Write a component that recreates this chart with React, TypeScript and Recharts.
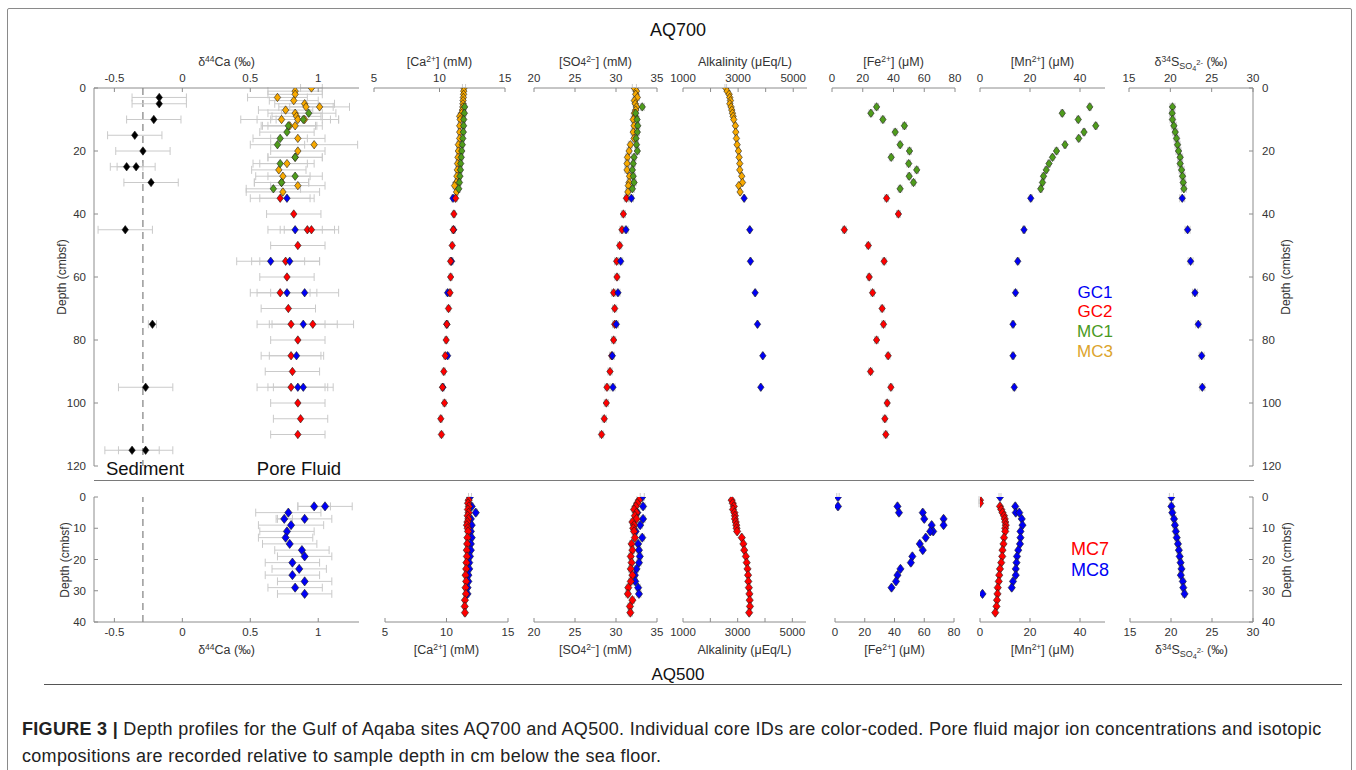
import React from 'react';
import { ScatterChart, Scatter, XAxis, YAxis, ErrorBar, ReferenceLine } from 'recharts';

const FONT = '"Liberation Sans", Arial, Helvetica, sans-serif';
const C_GC1 = '#0000f5';
const C_GC2 = '#ff0000';
const C_MC1 = '#4f9c1c';
const C_MC3 = '#f8a900';
const C_SED = '#000000';

// ================= AQ700 =================
// sediment δ44Ca
const sedDepth = [3, 5, 10, 15, 20, 25, 25, 30, 45, 75, 95, 115, 115];
const sedCa44 = [-0.17, -0.17, -0.21, -0.35, -0.29, -0.41, -0.34, -0.23, -0.42, -0.22, -0.27, -0.37, -0.27];
const sedCa44Err = [0.2, 0.2, 0.2, 0.2, 0.2, 0.12, 0.14, 0.2, 0.2, 0.03, 0.2, 0.2, 0.2];

// pore fluid δ44Ca
const mc3Ca44Depth = [0, 1, 2, 3, 4, 5, 6, 6, 7, 8, 9, 10, 10, 10, 12, 12, 16, 18, 20, 22, 24, 26, 28, 30, 31, 33];
const mc3Ca44 = [0.95, 0.83, 0.83, 0.7, 0.82, 0.9, 0.91, 1.01, 0.76, 0.83, 0.84, 0.85, 0.9, 0.73, 0.79, 0.83, 0.85, 0.97, 0.85, 0.83, 0.77, 0.71, 0.74, 0.73, 0.85, 0.74];
const mc3Ca44Err = [0.08, 0.2, 0.2, 0.22, 0.18, 0.22, 0.2, 0.22, 0.2, 0.2, 0.18, 0.3, 0.25, 0.3, 0.2, 0.2, 0.2, 0.32, 0.2, 0.2, 0.2, 0.2, 0.2, 0.2, 0.2, 0.27];
const mc1Ca44Depth = [8, 10, 12, 14, 16, 18, 22, 24, 28, 30, 32];
const mc1Ca44 = [0.93, 0.89, 0.78, 0.77, 0.72, 0.7, 0.83, 0.72, 0.83, 0.73, 0.67];
const mc1Ca44Err = [0.2, 0.2, 0.2, 0.2, 0.2, 0.2, 0.2, 0.2, 0.2, 0.2, 0.2];
const gc2Ca44Depth = [35, 40, 45, 45, 50, 55, 60, 65, 70, 75, 75, 80, 85, 90, 95, 100, 105, 110];
const gc2Ca44 = [0.72, 0.82, 0.92, 0.95, 0.85, 0.76, 0.77, 0.72, 0.78, 0.8, 0.96, 0.85, 0.8, 0.81, 0.8, 0.85, 0.87, 0.85];
const gc2Ca44Err = [0.22, 0.2, 0.2, 0.2, 0.2, 0.25, 0.2, 0.22, 0.2, 0.25, 0.3, 0.2, 0.22, 0.2, 0.25, 0.2, 0.2, 0.2];
const gc1Ca44Depth = [35, 45, 55, 55, 65, 65, 75, 85, 95, 95];
const gc1Ca44 = [0.77, 0.83, 0.65, 0.79, 0.77, 0.9, 0.89, 0.84, 0.85, 0.89];
const gc1Ca44Err = [0.2, 0.2, 0.25, 0.22, 0.22, 0.25, 0.25, 0.2, 0.22, 0.22];

// MC3 (0-33 cm)
const mc3Depth = [0, 1, 2, 3, 4, 5, 6, 7, 8, 9, 10, 12, 14, 16, 18, 20, 22, 24, 26, 28, 30, 31, 33];
const mc3Ca = [11.87, 11.85, 11.84, 11.82, 11.8, 11.79, 11.78, 11.75, 11.69, 11.54, 11.58, 11.54, 11.54, 11.54, 11.44, 11.44, 11.41, 11.38, 11.36, 11.33, 11.28, 11.15, 11.3];
const mc3SO4 = [32.24, 32.5, 32.4, 32.6, 32.24, 32.35, 32.5, 32.4, 32.24, 32.35, 32.1, 32.2, 32.1, 32.2, 31.75, 31.6, 31.4, 31.35, 31.35, 31.65, 31.6, 31.5, 31.45];
const mc3Alk = [2552, 2600, 2673, 2697, 2721, 2700, 2745, 2770, 2794, 2818, 2842, 2903, 2915, 2939, 2964, 3012, 3036, 3060, 3060, 3133, 3158, 3024, 3073];

// MC1 (6-32 cm)
const mc1Depth = [6, 8, 10, 12, 14, 16, 18, 20, 22, 24, 26, 28, 30, 32];
const mc1Ca = [11.92, 11.9, 11.85, 11.84, 11.82, 11.78, 11.74, 11.7, 11.66, 11.62, 11.6, 11.56, 11.52, 11.47];
const mc1SO4 = [33.2, 32.4, 32.57, 32.65, 32.6, 32.45, 32.5, 32.6, 32.2, 32.1, 32.0, 32.1, 32.2, 32.0];
const mc1Mn = [43.9, 32.9, 39.3, 46.3, 41.6, 39.5, 34.0, 30.6, 29.0, 27.6, 26.5, 25.4, 25.0, 24.3];
const mc1S34 = [20.26, 20.22, 20.26, 20.43, 20.59, 20.75, 20.87, 20.99, 21.19, 21.19, 21.36, 21.48, 21.56, 21.64];
const mc1FeDepth = [6, 8, 10, 12, 14, 18, 20, 22, 24, 26, 28, 30, 32];
const mc1Fe = [29.0, 25.3, 33.1, 47.1, 41.1, 44.3, 50.4, 38.5, 49.9, 55.1, 50.2, 53.0, 44.3];

// GC2 (35-110 cm)
const gc2Depth = [35, 40, 45, 50, 55, 60, 65, 70, 75, 80, 85, 90, 95, 100, 105, 110];
const gc2Ca = [11.23, 11.1, 11.05, 10.97, 10.85, 10.85, 10.8, 10.69, 10.56, 10.51, 10.44, 10.33, 10.23, 10.38, 10.1, 10.15];
const gc2SO4 = [31.27, 30.9, 30.73, 30.45, 30.08, 30.12, 29.71, 29.84, 29.84, 29.71, 29.47, 29.27, 28.9, 28.82, 28.57, 28.24];
const gc2Fe = [35.5, 43.2, 8.0, 23.6, 33.9, 24.2, 26.4, 32.6, 33.5, 29.0, 36.5, 25.1, 38.3, 35.9, 34.4, 35.0];

// GC1 (35-95 cm)
const gc1Depth = [35, 45, 55, 65, 75, 85, 95];
const gc1Ca = [11.03, 11.08, 10.92, 10.62, 10.56, 10.62, 10.26];
const gc1SO4 = [31.88, 31.22, 30.57, 30.24, 30.04, 29.55, 29.63];
const gc1Alk = [3218, 3424, 3448, 3618, 3703, 3897, 3824];
const gc1Mn = [20.3, 17.6, 15.1, 14.2, 13.2, 13.2, 13.7];
const gc1S34 = [21.44, 22.09, 22.45, 22.98, 23.38, 23.79, 23.87];

// ================= AQ500 =================
const mc8Ca44Depth = [3, 3, 5, 7, 7, 9, 11, 13, 15, 17, 19, 21, 23, 25, 27, 29, 31];
const mc8Ca44 = [0.97, 1.05, 0.78, 0.75, 0.9, 0.8, 0.77, 0.76, 0.79, 0.88, 0.9, 0.81, 0.86, 0.81, 0.9, 0.83, 0.9];
const mc8Ca44Err = [0.12, 0.2, 0.24, 0.06, 0.2, 0.24, 0.2, 0.2, 0.2, 0.2, 0.2, 0.2, 0.2, 0.2, 0.2, 0.2, 0.2];
const mc8Depth = [0, 3, 5, 7, 9, 11, 13, 15, 17, 19, 21, 23, 25, 27, 29, 31];
const mc8Ca = [11.91, 12.05, 12.38, 11.98, 12.05, 11.98, 12.05, 11.98, 11.98, 11.91, 11.85, 11.85, 11.78, 11.78, 11.71, 11.71];
const mc8SO4 = [33.2, 33.3, 32.6, 33.3, 32.95, 32.4, 33.2, 32.7, 32.8, 32.9, 32.8, 32.5, 32.3, 32.35, 32.7, 32.8];
const mc8S34 = [20.05, 20.05, 20.16, 20.37, 20.48, 20.59, 20.7, 20.85, 20.96, 21.06, 21.17, 21.28, 21.2, 21.44, 21.5, 21.65];
const mc8FeDepth = [0, 3, 3, 5, 5, 7, 7, 9, 9, 11, 11, 13, 15, 17, 19, 21, 23, 25, 27, 29];
const mc8Fe = [2, 2, 42, 43, 59, 60, 73, 65, 73, 66, 64, 61, 57, 59, 52, 51, 44, 42, 41, 38];
const mc8MnDepth = [0, 3, 5, 5, 7, 9, 11, 13, 15, 17, 19, 21, 23, 25, 27, 29, 31];
const mc8Mn = [8.0, 14.1, 14.3, 15.7, 16.7, 17.0, 16.2, 16.2, 16.0, 15.3, 14.8, 14.6, 14.3, 14.3, 13.2, 12.7, 1.0];

const mc7Depth = [1, 2, 3, 4, 5, 6, 7, 8, 9, 10, 11, 13, 15, 17, 19, 21, 23, 25, 27, 29, 31, 33, 35, 37];
const mc7Ca = [11.8, 11.75, 11.82, 11.74, 11.8, 11.72, 11.78, 11.7, 11.66, 11.72, 11.75, 11.7, 11.68, 11.65, 11.66, 11.62, 11.6, 11.55, 11.6, 11.55, 11.58, 11.5, 11.48, 11.5];
const mc7SO4 = [32.8, 32.6, 32.4, 32.2, 32.5, 32.3, 32.5, 32.0, 32.2, 32.1, 32.2, 32.3, 31.9, 32.0, 31.8, 31.9, 31.8, 32.0, 31.8, 31.5, 31.45, 32.0, 31.7, 31.75];
const mc7Alk = [2780, 2820, 2860, 2830, 2880, 2900, 2900, 2930, 2950, 2960, 2980, 3150, 3210, 3240, 3300, 3330, 3360, 3380, 3390, 3410, 3430, 3440, 3450, 3420];
const mc7Mn = [0, 0, 8.0, 8.5, 9.0, 9.6, 9.9, 10.1, 10.3, 10.1, 10.1, 9.6, 9.4, 9.0, 8.9, 8.5, 8.0, 7.7, 7.5, 7.1, 7.0, 6.8, 6.6, 6.1];

// axis ticks
const depthTicksTop = [0, 20, 40, 60, 80, 100, 120];
const depthTicksBottom = [0, 10, 20, 30, 40];
const ca44Ticks = [-0.5, 0, 0.5, 1];
const caTicks = [5, 10, 15];
const so4Ticks = [20, 25, 30, 35];
const alkTicks = [1000, 2000, 3000, 4000, 5000];
const feTicks = [0, 20, 40, 60, 80];
const mnTicks = [0, 20, 40];
const s34Ticks = [15, 20, 25, 30];

type Pt = { x: number; y: number; e: number };
const mk = (depth: number[], val: number[], err: number[] | number): Pt[] =>
  depth.map((d, i) => ({ x: val[i], y: d, e: Array.isArray(err) ? err[i] : err }));

const Diamond = (props: any) => {
  const { cx, cy, color, big } = props;
  if (cx == null || cy == null || isNaN(cx) || isNaN(cy)) return null;
  const hw = big ? 3.6 : 3.2;
  const hh = big ? 4.6 : 4.2;
  return (
    <path
      d={`M${cx},${cy - hh}L${cx + hw},${cy}L${cx},${cy + hh}L${cx - hw},${cy}Z`}
      fill={color}
      stroke="#1c1c1c"
      strokeWidth={0.6}
    />
  );
};

type SeriesDef = { color: string; data: Pt[] };

type PanelProps = {
  x0: number; x1: number; y0: number; y1: number;
  xDomain: [number, number]; xTicks: number[]; xFmt?: (v: number) => string;
  yDomain: [number, number]; yTicks: number[];
  side: 'top' | 'bottom';
  yAxis?: 'left' | 'right';
  series: SeriesDef[];
  refX?: number;
  big?: boolean;
  title: React.ReactNode;
  titleY: number;
};

const tickStyle = { fontSize: 11.5, fill: '#333333', fontFamily: FONT };

function Panel(p: PanelProps) {
  const padL = 50, padR = 50, padT = 30, padB = 30;
  const axisH = 24, axisW = 40;
  const W = p.x1 - p.x0 + padL + padR;
  const H = p.y1 - p.y0 + padT + padB;
  const margin = {
    top: p.side === 'top' ? padT - axisH : padT,
    bottom: p.side === 'bottom' ? padB - axisH : padB,
    left: p.yAxis === 'left' ? padL - axisW : padL,
    right: p.yAxis === 'right' ? padR - axisW : padR,
  };
  return (
    <>
      <div style={{ position: 'absolute', left: p.x0 - padL, top: p.y0 - padT }}>
        <ScatterChart width={W} height={H} margin={margin}>
          <XAxis
            type="number"
            dataKey="x"
            orientation={p.side}
            domain={p.xDomain}
            ticks={p.xTicks}
            interval={0}
            allowDataOverflow
            height={axisH}
            tickSize={-4}
            tickMargin={10}
            stroke="#8c8c8c"
            tick={tickStyle}
            tickFormatter={p.xFmt}
          />
          <YAxis
            type="number"
            dataKey="y"
            orientation={p.yAxis ?? 'left'}
            hide={!p.yAxis}
            reversed
            domain={p.yDomain}
            ticks={p.yTicks}
            interval={0}
            allowDataOverflow
            width={axisW}
            tickSize={-4}
            tickMargin={p.yAxis === 'right' ? 13 : 12}
            stroke="#8c8c8c"
            tick={tickStyle}
          />
          {p.refX !== undefined && (
            <ReferenceLine x={p.refX} stroke="#666666" strokeDasharray="7 5" strokeWidth={1} />
          )}
          {p.series.map((s, i) => (
            <Scatter
              key={i}
              data={s.data}
              isAnimationActive={false}
              shape={(sp: any) => <Diamond {...sp} color={s.color} big={p.big} />}
            >
              <ErrorBar dataKey="e" direction="x" width={4} stroke="#cacaca" strokeWidth={1} />
            </Scatter>
          ))}
        </ScatterChart>
      </div>
      <div
        style={{
          position: 'absolute',
          left: (p.x0 + p.x1) / 2 - 100,
          width: 200,
          top: p.titleY - 9,
          textAlign: 'center',
          fontSize: 12.5,
          fontFamily: FONT,
          color: '#333333',
          lineHeight: '18px',
          whiteSpace: 'nowrap',
        }}
      >
        {p.title}
      </div>
    </>
  );
}

const sup: React.CSSProperties = { fontSize: '0.68em', verticalAlign: '0.45em', lineHeight: 0 };
const sub: React.CSSProperties = { fontSize: '0.72em', verticalAlign: '-0.3em', lineHeight: 0 };

const T_CA44 = <span>δ<span style={sup}>44</span>Ca (‰)</span>;
const T_CA = <span>[Ca<span style={sup}>2+</span>] (mM)</span>;
const T_SO4 = <span>[SO<span style={{ fontSize: '0.8em' }}>4</span><span style={sup}>2−</span>] (mM)</span>;
const T_ALK = <span>Alkalinity (μEq/L)</span>;
const T_FE = <span>[Fe<span style={sup}>2+</span>] (μM)</span>;
const T_MN = <span>[Mn<span style={sup}>2+</span>] (μM)</span>;
const T_S34 = (
  <span>
    δ<span style={sup}>34</span>S<span style={sub}>SO<span style={{ fontSize: '0.8em', verticalAlign: '-0.25em' }}>4</span><span style={{ fontSize: '0.85em', verticalAlign: '0.5em' }}>2-</span></span> (‰)
  </span>
);

const alkFmt = (v: number) => (v === 2000 || v === 4000 ? '' : String(v));

const textAbs = (x: number, y: number, txt: React.ReactNode, size: number, color: string, extra: React.CSSProperties = {}) => (
  <div
    style={{
      position: 'absolute',
      left: x - 150,
      top: y - size * 0.6,
      width: 300,
      textAlign: 'center',
      fontFamily: FONT,
      fontSize: size,
      lineHeight: `${size * 1.2}px`,
      color,
      whiteSpace: 'nowrap',
      ...extra,
    }}
  >
    {txt}
  </div>
);

const vText = (x: number, y: number, txt: string) => (
  <div
    style={{
      position: 'absolute',
      left: x - 60,
      top: y - 8,
      width: 120,
      height: 16,
      textAlign: 'center',
      fontFamily: FONT,
      fontSize: 12,
      lineHeight: '16px',
      color: '#333333',
      transform: 'rotate(-90deg)',
      whiteSpace: 'nowrap',
    }}
  >
    {txt}
  </div>
);

export default function App() {
  const TY0 = 88, TY1 = 466;
  const BY0 = 497, BY1 = 622;
  const topD: [number, number] = [0, 120];
  const botD: [number, number] = [0, 40];
  const ca44Dom: [number, number] = [-0.65, 1.3];

  return (
    <div style={{ position: 'absolute', left: 0, top: 0, width: 1356, height: 770, background: '#fff', overflow: 'hidden' }}>
      {/* frame */}
      <div style={{ position: 'absolute', left: 7, top: 8, width: 1343, height: 800, border: '1px solid #8a8a8a', borderRadius: 2 }} />

      {textAbs(678, 31, 'AQ700', 18, '#111')}

      {/* ===== AQ700 panels ===== */}
      <Panel x0={94} x1={359} y0={TY0} y1={TY1} xDomain={ca44Dom} xTicks={ca44Ticks} yDomain={topD} yTicks={depthTicksTop}
        side="top" yAxis="left" refX={-0.29} title={T_CA44} titleY={62}
        series={[
          { color: C_SED, data: mk(sedDepth, sedCa44, sedCa44Err) },
          { color: C_MC3, data: mk(mc3Ca44Depth, mc3Ca44, mc3Ca44Err) },
          { color: C_MC1, data: mk(mc1Ca44Depth, mc1Ca44, mc1Ca44Err) },
          { color: C_GC2, data: mk(gc2Ca44Depth, gc2Ca44, gc2Ca44Err) },
          { color: C_GC1, data: mk(gc1Ca44Depth, gc1Ca44, gc1Ca44Err) },
        ]} />
      <Panel x0={374} x1={505} y0={TY0} y1={TY1} xDomain={[5, 15]} xTicks={caTicks} yDomain={topD} yTicks={depthTicksTop}
        side="top" title={T_CA} titleY={62}
        series={[
          { color: C_MC3, data: mk(mc3Depth, mc3Ca, 0.12) },
          { color: C_MC1, data: mk(mc1Depth, mc1Ca, 0.12) },
          { color: C_GC1, data: mk(gc1Depth, gc1Ca, 0.12) },
          { color: C_GC2, data: mk(gc2Depth, gc2Ca, 0.12) },
        ]} />
      <Panel x0={534} x1={657} y0={TY0} y1={TY1} xDomain={[20, 35]} xTicks={so4Ticks} yDomain={topD} yTicks={depthTicksTop}
        side="top" title={T_SO4} titleY={62}
        series={[
          { color: C_MC3, data: mk(mc3Depth, mc3SO4, 0.25) },
          { color: C_MC1, data: mk(mc1Depth, mc1SO4, 0.25) },
          { color: C_GC2, data: mk(gc2Depth, gc2SO4, 0.25) },
          { color: C_GC1, data: mk(gc1Depth, gc1SO4, 0.25) },
        ]} />
      <Panel x0={683} x1={807} y0={TY0} y1={TY1} xDomain={[1000, 5500]} xTicks={alkTicks} xFmt={alkFmt} yDomain={topD} yTicks={depthTicksTop}
        side="top" title={T_ALK} titleY={62}
        series={[
          { color: C_MC3, data: mk(mc3Depth, mc3Alk, 30) },
          { color: C_GC1, data: mk(gc1Depth, gc1Alk, 30) },
        ]} />
      <Panel x0={832} x1={955} y0={TY0} y1={TY1} xDomain={[0, 80]} xTicks={feTicks} yDomain={topD} yTicks={depthTicksTop}
        side="top" title={T_FE} titleY={62}
        series={[
          { color: C_MC1, data: mk(mc1FeDepth, mc1Fe, 1.2) },
          { color: C_GC2, data: mk(gc2Depth, gc2Fe, 1.2) },
        ]} />
      <Panel x0={980} x1={1105} y0={TY0} y1={TY1} xDomain={[0, 50]} xTicks={mnTicks} yDomain={topD} yTicks={depthTicksTop}
        side="top" title={T_MN} titleY={62}
        series={[
          { color: C_MC1, data: mk(mc1Depth, mc1Mn, 0.6) },
          { color: C_GC1, data: mk(gc1Depth, gc1Mn, 0.6) },
        ]} />
      <Panel x0={1129} x1={1253} y0={TY0} y1={TY1} xDomain={[15, 30]} xTicks={s34Ticks} yDomain={topD} yTicks={depthTicksTop}
        side="top" yAxis="right" title={T_S34} titleY={62}
        series={[
          { color: C_MC1, data: mk(mc1Depth, mc1S34, 0.3) },
          { color: C_GC1, data: mk(gc1Depth, gc1S34, 0.3) },
        ]} />

      {vText(62, 277, 'Depth (cmbsf)')}
      {vText(1286, 277, 'Depth (cmbsf)')}

      {textAbs(1095, 293, 'GC1', 17, C_GC1)}
      {textAbs(1095, 312, 'GC2', 17, C_GC2)}
      {textAbs(1095, 332, 'MC1', 17, '#4a9a22')}
      {textAbs(1095, 352, 'MC3', 17, '#dca42c')}

      {textAbs(145, 469, 'Sediment', 18.5, '#111')}
      {textAbs(299, 469, 'Pore Fluid', 18.5, '#111')}

      <div style={{ position: 'absolute', left: 94, top: 480, width: 1160, height: 1, background: '#7a7a7a' }} />

      {/* ===== AQ500 panels ===== */}
      <Panel x0={94} x1={359} y0={BY0} y1={BY1} xDomain={ca44Dom} xTicks={ca44Ticks} yDomain={botD} yTicks={depthTicksBottom}
        side="bottom" yAxis="left" refX={-0.29} big title={T_CA44} titleY={650}
        series={[{ color: C_GC1, data: mk(mc8Ca44Depth, mc8Ca44, mc8Ca44Err) }]} />
      <Panel x0={385} x1={508} y0={BY0} y1={BY1} xDomain={[5, 15]} xTicks={caTicks} yDomain={botD} yTicks={depthTicksBottom}
        side="bottom" big title={T_CA} titleY={650}
        series={[
          { color: C_GC1, data: mk(mc8Depth, mc8Ca, 0.12) },
          { color: C_GC2, data: mk(mc7Depth, mc7Ca, 0.12) },
        ]} />
      <Panel x0={534} x1={657} y0={BY0} y1={BY1} xDomain={[20, 35]} xTicks={so4Ticks} yDomain={botD} yTicks={depthTicksBottom}
        side="bottom" big title={T_SO4} titleY={650}
        series={[
          { color: C_GC1, data: mk(mc8Depth, mc8SO4, 0.25) },
          { color: C_GC2, data: mk(mc7Depth, mc7SO4, 0.25) },
        ]} />
      <Panel x0={683} x1={806} y0={BY0} y1={BY1} xDomain={[1000, 5500]} xTicks={alkTicks} xFmt={alkFmt} yDomain={botD} yTicks={depthTicksBottom}
        side="bottom" big title={T_ALK} titleY={650}
        series={[{ color: C_GC2, data: mk(mc7Depth, mc7Alk, 30) }]} />
      <Panel x0={835} x1={954} y0={BY0} y1={BY1} xDomain={[0, 80]} xTicks={feTicks} yDomain={botD} yTicks={depthTicksBottom}
        side="bottom" big title={T_FE} titleY={650}
        series={[{ color: C_GC1, data: mk(mc8FeDepth, mc8Fe, 0.8) }]} />
      <Panel x0={980} x1={1105} y0={BY0} y1={BY1} xDomain={[0, 50]} xTicks={mnTicks} yDomain={botD} yTicks={depthTicksBottom}
        side="bottom" big title={T_MN} titleY={650}
        series={[
          { color: C_GC2, data: mk(mc7Depth, mc7Mn, 0.4) },
          { color: C_GC1, data: mk(mc8MnDepth, mc8Mn, 0.4) },
        ]} />
      <Panel x0={1130} x1={1253} y0={BY0} y1={BY1} xDomain={[15, 30]} xTicks={s34Ticks} yDomain={botD} yTicks={depthTicksBottom}
        side="bottom" yAxis="right" big title={T_S34} titleY={650}
        series={[{ color: C_GC1, data: mk(mc8Depth, mc8S34, 0.25) }]} />

      {vText(65, 560, 'Depth (cmbsf)')}
      {vText(1287, 560, 'Depth (cmbsf)')}

      {textAbs(1090, 550, 'MC7', 18, C_GC2)}
      {textAbs(1090, 571, 'MC8', 18, C_GC1)}

      {textAbs(678, 675, 'AQ500', 17, '#111')}
      <div style={{ position: 'absolute', left: 44, top: 684, width: 1298, height: 1, background: '#555' }} />

      <div
        style={{
          position: 'absolute',
          left: 22,
          top: 716,
          width: 1330,
          fontFamily: FONT,
          fontSize: 18,
          letterSpacing: '0.3px',
          lineHeight: '27px',
          color: '#222',
          whiteSpace: 'nowrap',
        }}
      >
        <b>FIGURE 3 |</b> Depth profiles for the Gulf of Aqaba sites AQ700 and AQ500. Individual core IDs are color-coded. Pore fluid major ion concentrations and isotopic
        <br />
        compositions are recorded relative to sample depth in cm below the sea floor.
      </div>
    </div>
  );
}
